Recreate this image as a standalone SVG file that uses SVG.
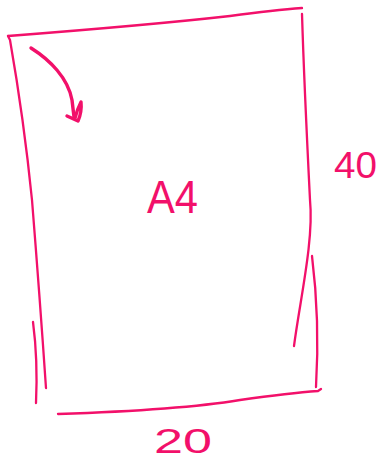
<svg xmlns="http://www.w3.org/2000/svg" width="379" height="460" viewBox="0 0 379 460">
  <style>
    .ink { fill: none; stroke: #f2106a; stroke-linecap: round; stroke-linejoin: round; }
    .edge { stroke-width: 2.3; }
    .arrow { stroke-width: 3.4; }
    .label { fill: #f2106a; font-family: "Liberation Sans", Arial, sans-serif; }
  </style>
  <rect width="379" height="460" fill="#ffffff"/>
  <g id="sheet">
    <path class="ink edge" d="M8,36 Q150,25 230,16 Q275,10 302,8"/>
    <path class="ink edge" d="M8,36 L10,40 Q24,120 32,200 Q40,300 46,388"/>
    <path class="ink edge" d="M33,322 Q38,360 36,403"/>
    <path class="ink edge" d="M302,14 C304,80 307,140 310,200 C314,240 300,300 294,346"/>
    <path class="ink edge" d="M312,256 Q320,320 316,387"/>
    <path class="ink edge" d="M58,414 Q180,410 240,400 Q290,393 318,391 L321,389"/>
    <text class="label" x="147" y="213" font-size="47" textLength="51" lengthAdjust="spacingAndGlyphs">A4</text>
  </g>
  <g id="connectors">
    <path class="ink arrow" d="M31,48 C50,60 68,78 72,100 L74,117"/>
    <path class="ink arrow" d="M67,116 L78,121 Q82,112 81,102 Q77,110 75,118"/>
  </g>
  <g id="height-label">
    <text class="label" x="334" y="178" font-size="36" textLength="43" lengthAdjust="spacingAndGlyphs">40</text>
  </g>
  <g id="width-label">
    <text class="label" x="154" y="453" font-size="35" textLength="58" lengthAdjust="spacingAndGlyphs">20</text>
  </g>
</svg>
